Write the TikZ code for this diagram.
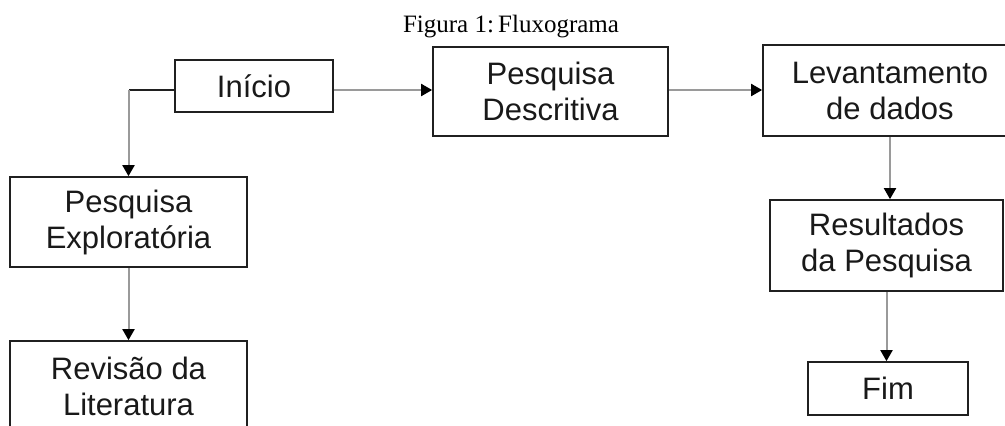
\documentclass[tikz,border=0pt]{standalone}
\usepackage{fontspec}
\setmainfont{Liberation Serif}
\newfontfamily\boxfont{Liberation Sans}
\usetikzlibrary{arrows.meta}
\definecolor{linegray}{HTML}{9A9A9A}
\definecolor{boxline}{HTML}{202020}
\tikzset{
  flowbox/.style={draw=boxline, line width=1.7pt, align=center, inner sep=0pt,
    font=\boxfont\fontsize{31}{36}\selectfont, text=black!90},
  flowarrow/.style={draw=linegray, line width=2pt,
    -{Triangle[length=11pt,width=12pt,color=black]}},
}
\begin{document}
\begin{tikzpicture}[x=1pt,y=-1pt]
\useasboundingbox (0,0) rectangle (1005,426);
\node[font=\fontsize{25}{30}\selectfont, anchor=base] (cap) at (511,32) {Figura 1:\,Fluxograma};
\node[flowbox, minimum width=158pt, minimum height=52pt] (inicio) at (254,86) {Início};
\node[flowbox, minimum width=237pt, minimum height=90pt] (explo) at (128.5,222) {Pesquisa\\Exploratória};
\node[flowbox, minimum width=237pt, minimum height=90pt] (rev) at (128.5,386) {Revisão da\\Literatura};
\node[flowbox, minimum width=235pt, minimum height=89pt] (desc) at (550.5,91.5) {Pesquisa\\Descritiva};
\node[flowbox, minimum width=254pt, minimum height=91pt] (lev) at (890,90.5) {Levantamento\\de dados};
\node[flowbox, minimum width=233pt, minimum height=91pt] (res) at (886.5,245.5) {Resultados\\da Pesquisa};
\node[flowbox, minimum width=160pt, minimum height=53pt] (fim) at (888,388.5) {Fim};
\coordinate (corner) at (explo.north |- 0,90);
\draw[boxline, line width=1.7pt] (inicio.west |- corner) -- (corner);
\draw[flowarrow] (corner) -- (explo.north);
\draw[flowarrow] (explo.south) -- (rev.north);
\draw[flowarrow] (inicio.east |- corner) -- (desc.west |- corner);
\draw[flowarrow] (desc.east |- corner) -- (lev.west |- corner);
\draw[flowarrow] (lev.south) -- (lev.south |- res.north);
\draw[flowarrow] (res.south) -- (res.south |- fim.north);
\end{tikzpicture}
\end{document}
